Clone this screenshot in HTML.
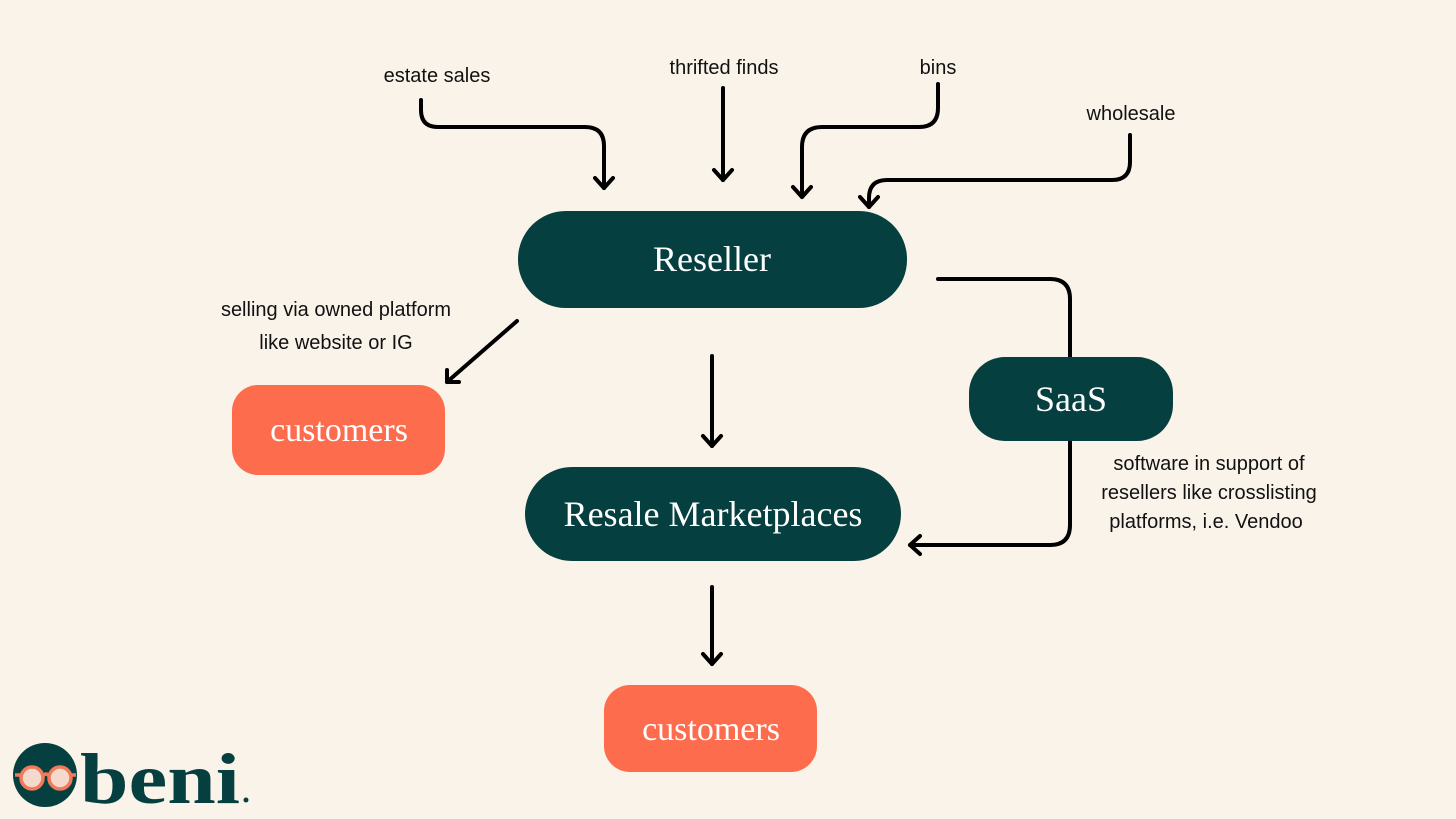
<!DOCTYPE html>
<html><head><meta charset="utf-8"><style>
html,body{margin:0;padding:0;background:#faf3ea;}
svg{display:block}
.l{font-family:"Liberation Sans",sans-serif;font-size:20px;fill:#111;}
.s{font-family:"Liberation Serif",serif;fill:#fff;}
</style></head><body>
<svg width="1456" height="819" viewBox="0 0 1456 819" xmlns="http://www.w3.org/2000/svg">
<rect width="1456" height="819" fill="#faf3ea"/>
<g fill="none" stroke="#000" stroke-width="4" stroke-linecap="round" stroke-linejoin="round">
<path d="M421,100 V110 Q421,127 438,127 H585 Q604,127 604,146 V188"/>
<path d="M595,178 L604,188 L613,178"/>
<path d="M723,88 V180"/>
<path d="M714,170 L723,180 L732,170"/>
<path d="M938,84 V108 Q938,127 919,127 H822 Q802,127 802,147 V197"/>
<path d="M793,187 L802,197 L811,187"/>
<path d="M1130,135 V162 Q1130,180 1112,180 H887 Q869,180 869,198 V207"/>
<path d="M860,197 L869,207 L878,197"/>
<path d="M517,321 L447,382"/>
<path d="M447,370 L447,382 L459,382"/>
<path d="M712,356 V446"/>
<path d="M703,436 L712,446 L721,436"/>
<path d="M938,279 H1050 Q1070,279 1070,299 V357"/>
<path d="M1070,441 V525 Q1070,545 1050,545 H910"/>
<path d="M920,536 L910,545 L920,554"/>
<path d="M712,587 V664"/>
<path d="M703,654 L712,664 L721,654"/>
</g>
<rect x="518" y="211" width="389" height="97" rx="48" fill="#053f3f"/>
<text x="712" y="271" text-anchor="middle" class="s" font-size="36">Reseller</text>
<rect x="525" y="467" width="376" height="94" rx="47" fill="#053f3f"/>
<text x="713" y="526" text-anchor="middle" class="s" font-size="36">Resale Marketplaces</text>
<rect x="969" y="357" width="204" height="84" rx="36" fill="#053f3f"/>
<text x="1071" y="411" text-anchor="middle" class="s" font-size="36">SaaS</text>
<rect x="232" y="385" width="213" height="90" rx="26" fill="#fe6c4e"/>
<text x="339" y="441" text-anchor="middle" class="s" font-size="34">customers</text>
<rect x="604" y="685" width="213" height="87" rx="26" fill="#fe6c4e"/>
<text x="711" y="740" text-anchor="middle" class="s" font-size="34">customers</text>
<text x="437" y="82" text-anchor="middle" class="l">estate sales</text>
<text x="724" y="74" text-anchor="middle" class="l">thrifted finds</text>
<text x="938" y="74" text-anchor="middle" class="l">bins</text>
<text x="1131" y="120" text-anchor="middle" class="l">wholesale</text>
<text x="336" y="316" text-anchor="middle" class="l">selling via owned platform</text>
<text x="336" y="349" text-anchor="middle" class="l">like website or IG</text>
<text x="1209" y="470" text-anchor="middle" class="l" font-size="19">software in support of</text>
<text x="1209" y="499" text-anchor="middle" class="l" font-size="19">resellers like crosslisting</text>
<text x="1206" y="528" text-anchor="middle" class="l" font-size="19">platforms, i.e. Vendoo</text>
<circle cx="45" cy="775" r="32" fill="#053f3f"/>
<g fill="none" stroke="#f07a5a" stroke-width="3.5">
<circle cx="32" cy="778" r="11" fill="#f5d9cc"/>
<circle cx="60" cy="778" r="11" fill="#f5d9cc"/>
<path d="M43,776 Q46,772 49,776 M21,775 H15 M71,775 H76"/>
</g>
<text x="80" y="803" font-family="Liberation Serif,serif" font-weight="bold" font-size="72" fill="#053f3f" textLength="160" lengthAdjust="spacingAndGlyphs">beni</text>
<circle cx="246" cy="800" r="2.5" fill="#053f3f"/>
</svg>
</body></html>
